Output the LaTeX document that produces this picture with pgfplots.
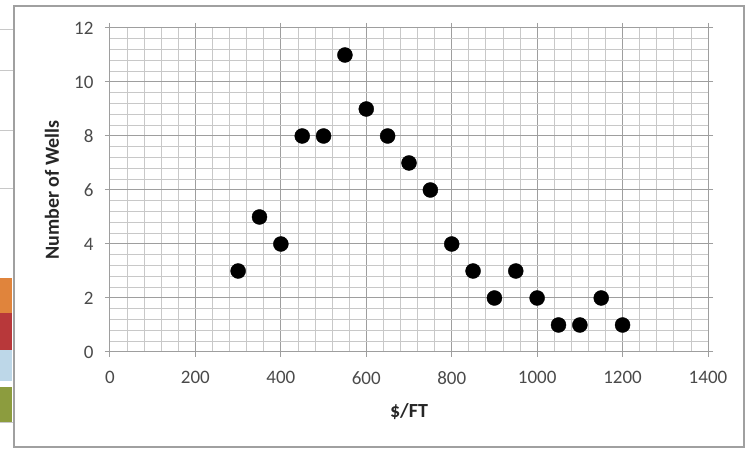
\documentclass[border=0pt]{standalone}
\usepackage{fontspec}
\setmainfont{Carlito}
\usepackage{pgfplots}
\pgfplotsset{compat=1.18}
\definecolor{tickgray}{HTML}{4A4A4A}
\definecolor{titlegray}{HTML}{262626}
\definecolor{gridmajor}{HTML}{9E9E9E}
\definecolor{gridminor}{HTML}{C8C8C8}
\definecolor{frame}{HTML}{A0A0A0}
\definecolor{stripo}{HTML}{E0843C}
\definecolor{stripr}{HTML}{B8383A}
\definecolor{stripb}{HTML}{BDD7E8}
\definecolor{stripg}{HTML}{8C9C3E}

\begin{document}
\begin{tikzpicture}[x=1pt,y=1pt]
\useasboundingbox (0,0) rectangle (745,449);
% screenshot leftovers at the left edge
\fill[stripo] (0,136) rectangle (12,171);
\fill[stripr] (0,99) rectangle (12,136);
\fill[stripb] (0,68) rectangle (12,99);
\fill[stripg] (0,27) rectangle (12,62);
\foreach \yy in {420,379,319,261,27}
  \draw[gridminor, line width=0.8pt] (0,\yy) -- (13,\yy);
% chart frame
\draw[frame, line width=1.4pt] (14,2) rectangle (744,443);

\begin{axis}[
    at={(110pt,97pt)}, anchor=south west,
    scale only axis,
    width=598pt, height=324pt,
    xmin=0, xmax=1400,
    ymin=0, ymax=12,
    xtick={0,200,...,1400},
    ytick={0,2,...,12},
    minor x tick num=4,
    minor y tick num=4,
    grid=both,
    major grid style={gridmajor, line width=1pt},
    minor grid style={gridminor, line width=0.8pt},
    axis line style={gridmajor, line width=1pt},
    tick align=outside,
    major tick length=5pt,
    minor tick length=0pt,
    tick style={gridmajor, line width=1pt},
    ticklabel style={font=\fontsize{19}{21}\selectfont, text=tickgray},
    xticklabel style={yshift=-11pt},
    yticklabel style={xshift=-8pt},
    /pgf/number format/assume math mode=true,
    /pgf/number format/1000 sep={},
    xlabel={\$/FT},
    ylabel={Number of Wells},
    label style={font=\bfseries\fontsize{20}{22}\selectfont, text=titlegray},
    xlabel style={at={(axis description cs:0.5,-0.185)}, anchor=center},
    ylabel style={at={(axis description cs:-0.097,0.5)}, anchor=center},
]
% wells per cost bin
\addplot[only marks, mark=*, mark size=7.5pt,
         mark options={fill=black, draw=black}] coordinates {
    (300,3) (350,5) (400,4) (450,8) (500,8) (550,11) (600,9)
    (650,8) (700,7) (750,6) (800,4) (850,3) (900,2) (950,3)
    (1000,2) (1050,1) (1100,1) (1150,2) (1200,1)
};
\end{axis}
\end{tikzpicture}
\end{document}
